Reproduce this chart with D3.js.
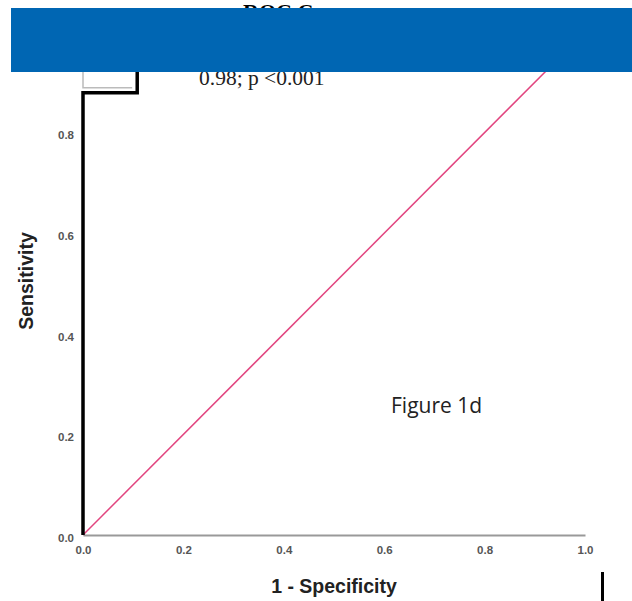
<!DOCTYPE html>
<html>
<head>
<meta charset="utf-8">
<script src="https://cdn.jsdelivr.net/npm/d3@7"></script>
<style>
  body { margin: 0; background: #fff; }
  svg { display: block; }
</style>
</head>
<body>
<div id="chart"></div>
<script>
const WIDTH = 632, HEIGHT = 601;

// ROC curve (1 - specificity, sensitivity)
const rocFpr = [0, 0, 0.108, 0.108, 1];
const rocTpr = [0, 0.879, 0.879, 1, 1];
// faint grey trace just above the black step
const ghostFpr = [0, 0, 0.098];
const ghostTpr = [1, 0.889, 0.889];
// diagonal reference line
const refFpr = [0, 1];
const refTpr = [0, 1];

const xTicks = [0, 0.2, 0.4, 0.6, 0.8, 1.0];
const yTicks = [0, 0.2, 0.4, 0.6, 0.8];

const svg = d3.select("#chart")
    .append("svg")
    .attr("width", WIDTH)
    .attr("height", HEIGHT);

const x = d3.scaleLinear().domain([0, 1]).range([83, 585]);
const y = d3.scaleLinear().domain([0, 1]).range([535, 32]);

// title (mostly under the blue band)
svg.append("text")
    .attr("x", 243).attr("y", 19)
    .style("font", "bold 22px 'Liberation Serif', serif")
    .text("ROC Curve");

// x axis
const xAxis = svg.append("g")
    .attr("transform", `translate(0,${y(0)})`)
    .call(d3.axisBottom(x).tickValues(xTicks).tickFormat(d3.format(".1f")).tickSize(0).tickPadding(11));
xAxis.select(".domain").attr("stroke", "#999").attr("stroke-width", 2);
xAxis.selectAll("text")
    .style("font", "bold 11.5px 'Liberation Sans', Arial, sans-serif")
    .attr("fill", "#555");

// y axis labels only (no visible line)
const yAxis = svg.append("g")
    .attr("transform", `translate(${x(0)},0)`)
    .call(d3.axisLeft(y).tickValues(yTicks).tickFormat(d3.format(".1f")).tickSize(0).tickPadding(9));
yAxis.select(".domain").remove();
yAxis.selectAll("text")
    .attr("dy", "0.55em")
    .style("font", "bold 11.5px 'Liberation Sans', Arial, sans-serif")
    .attr("fill", "#555");

const line = d3.line().x(d => x(d[0])).y(d => y(d[1]));

svg.append("path")
    .datum(d3.zip(refFpr, refTpr))
    .attr("d", line)
    .attr("fill", "none")
    .attr("stroke", "#e2457f")
    .attr("stroke-width", 1.5);

svg.append("path")
    .datum(d3.zip(ghostFpr, ghostTpr))
    .attr("d", line)
    .attr("fill", "none")
    .attr("stroke", "#bbb")
    .attr("stroke-width", 1.5);

svg.append("path")
    .datum(d3.zip(rocFpr, rocTpr))
    .attr("d", line)
    .attr("fill", "none")
    .attr("stroke", "#000")
    .attr("stroke-width", 3.5);

// AUC annotation
svg.append("text")
    .attr("x", 199).attr("y", 85)
    .style("font", "21.5px 'Liberation Serif', 'Times New Roman', serif")
    .attr("fill", "#222")
    .text("0.98; p <0.001");

svg.append("text")
    .attr("x", 391).attr("y", 413)
    .style("font", "21px 'Open Sans', 'Noto Sans', sans-serif")
    .attr("fill", "#222")
    .text("Figure 1d");

// axis titles
svg.append("text")
    .attr("x", 334).attr("y", 593)
    .attr("text-anchor", "middle")
    .style("font", "bold 19.5px 'Liberation Sans', Arial, sans-serif")
    .attr("fill", "#222")
    .text("1 - Specificity");

svg.append("text")
    .attr("transform", "translate(33,281) rotate(-90)")
    .attr("text-anchor", "middle")
    .style("font", "bold 19.5px 'Liberation Sans', Arial, sans-serif")
    .attr("fill", "#222")
    .text("Sensitivity");

// blue band over the top
svg.append("rect")
    .attr("x", 11).attr("y", 8)
    .attr("width", WIDTH - 11).attr("height", 64)
    .attr("fill", "#0066b3");

// small black bar bottom right
svg.append("rect")
    .attr("x", 601).attr("y", 572)
    .attr("width", 3).attr("height", HEIGHT - 572)
    .attr("fill", "#000");
</script>
</body>
</html>
